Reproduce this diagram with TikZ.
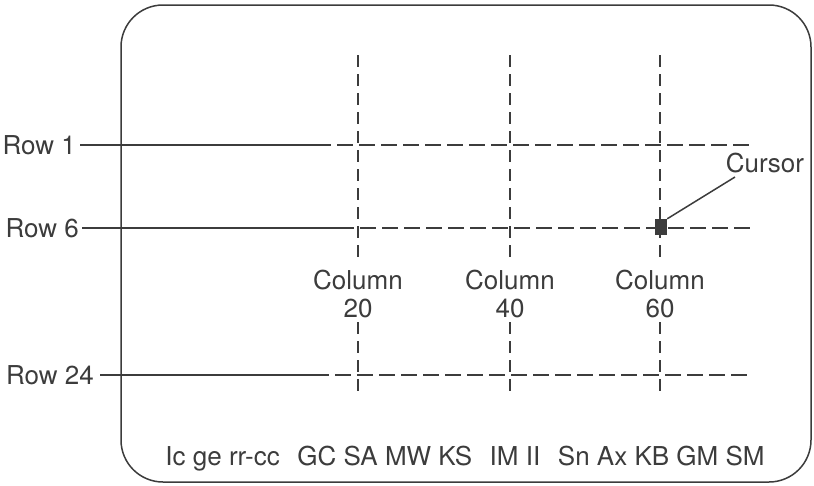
\documentclass[tikz,border=0pt]{standalone}
\usepackage{fontspec}
\setmainfont{TeX Gyre Heros}
\definecolor{ink}{HTML}{3C3C3C}
\tikzset{
  lbl/.style={text=ink, inner sep=0pt, font=\fontsize{26}{28}\selectfont},
  solidln/.style={draw=ink, line width=1.5pt},
  hdash/.style={draw=ink, line width=1.5pt, dash pattern=on 16pt off 6pt},
  vdash/.style={draw=ink, line width=1.5pt, dash pattern=on 12pt off 7pt},
  frame/.style={draw=ink, line width=1.5pt, rounded corners=42pt},
}
\begin{document}
\begin{tikzpicture}[x=1pt,y=-1pt]
\useasboundingbox (0,0) rectangle (814,485);
% screen frame
\draw[frame] (121,5) rectangle (811,482);

% row labels
\node[lbl, anchor=east] (r1) at (76,145) {Row 1};
\node[lbl, anchor=east] (r6) at (79,228) {Row 6};
\node[lbl, anchor=east] (r24) at (94,375) {Row 24};
\coordinate (r1s) at (315,145);
\coordinate (r6s) at (338,228);
\coordinate (r24s) at (313,375);
\coordinate (r1e) at (750,145);
\coordinate (r6e) at (750,228);
\coordinate (r24e) at (750,375);
\draw[solidln] ([xshift=4pt]r1.east) -- (r1s);
\draw[solidln] ([xshift=3pt]r6.east) -- (r6s);
\draw[solidln] ([xshift=6pt]r24.east) -- (r24s);
\draw[hdash] (r1s) -- (r1e);
\draw[hdash] (r6s) -- (r6e);
\draw[hdash] (r24s) -- (r24e);

% column labels and lines
\node[lbl, align=center] (c20) at (358,294) {Column\\20};
\node[lbl, align=center] (c40) at (510,294) {Column\\40};
\node[lbl, align=center] (c60) at (660,294) {Column\\60};
\foreach \n/\x in {c20/358,c40/510,c60/660}{
  \coordinate (\n t) at (\x,55);
  \coordinate (\n a) at (\x,260);
  \coordinate (\n b) at (\x,322);
  \coordinate (\n e) at (\x,396);
  \draw[vdash] (\n t) -- (\n a);
  \draw[vdash] (\n b) -- (\n e);
}

% cursor
\node[fill=ink, inner sep=0pt, minimum width=12pt, minimum height=16pt] (cur) at (661,227) {};
\node[lbl] (curl) at (765,163) {Cursor};
\coordinate (curlead) at (735,177);
\draw[solidln] (cur.north east) -- (curlead);

% bottom status text
\node[lbl] (status) at (465,459) {Ic ge rr-cc\hspace{0.4em} GC SA MW KS\hspace{0.4em} IM II\hspace{0.4em} Sn Ax KB GM SM};
\end{tikzpicture}
\end{document}
